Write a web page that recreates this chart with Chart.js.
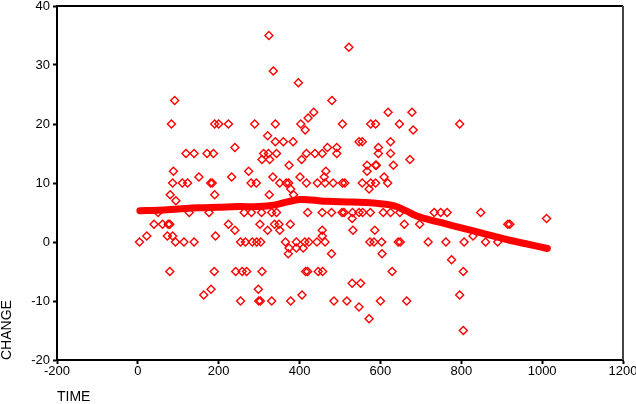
<!DOCTYPE html>
<html>
<head>
<meta charset="utf-8">
<title>CHANGE vs TIME</title>
<script src="https://cdn.jsdelivr.net/npm/chart.js@4.4.1/dist/chart.umd.min.js"></script>
<style>
  body { margin: 0; background: #fff; }
  #wrap { width: 636px; height: 404px; }
</style>
</head>
<body>
<div id="wrap"><canvas id="chart" width="636" height="404"></canvas></div>
<script>
const times = [
    91, 83, 190, 200, 224, 289, 340, 321, 340, 240, 119, 139, 171, 187, 311, 323, 307, 326,
    88, 274, 86, 110, 123, 151, 180, 184, 232, 280, 293, 334, 80, 94, 190, 325,
    50, 127, 176, 263, 281, 306, 331,
    40, 61, 75, 79, 224, 240, 302, 338, 321, 22, 73, 86, 192, 4, 93, 114, 139,
    254, 266, 283, 294, 304, 79, 189, 242, 258, 269, 307, 181, 163, 298, 254, 299, 303, 331,
    324, 522, 335, 397, 480, 435, 421, 619, 678, 403, 414, 506, 576, 588, 647, 681,
    360, 384, 469, 547, 555, 625, 595, 343, 417, 438, 456, 492, 492, 595, 625, 405, 673,
    374, 567, 588, 590, 632, 465, 461, 567, 401, 609, 351, 367, 373, 417, 444, 463, 483,
    506, 512, 555, 576, 588, 618, 378, 572, 385,
    343, 420, 456, 479, 505, 510, 531, 547, 556, 575, 607, 625, 648,
    530, 659, 349, 377, 351, 456, 456, 532, 586, 365, 392, 413, 423, 443, 463,
    574, 584, 603, 644, 649, 374, 392, 409, 372, 479, 604, 415, 420, 446, 457, 629,
    530, 551, 406, 378, 485, 517, 600, 665, 547, 572,
    796, 733, 749, 765, 848, 1011, 697, 915, 920, 829, 718, 762, 807, 860, 890,
    776, 805, 796, 805
];
const changes = [
    24, 20, 20, 20, 20, 20, 20, 18, 17, 16, 15, 15, 15, 15, 15, 15, 14, 14,
    12, 12, 10, 10, 10, 11, 10, 10, 11, 10, 10, 11, 8, 7, 8, 8,
    5, 5, 5, 5, 5, 5, 5,
    3, 3, 3, 3, 3, 2, 3, 3, 2, 1, 1, 1, 1, 0, 0, 0, 0,
    0, 0, 0, 0, 0, -5, -5, -5, -5, -5, -5, -8, -9, -8, -10, -10, -10, -10,
    35, 33, 29, 27, 24, 22, 21, 22, 22, 20, 19, 20, 20, 20, 20, 19,
    17, 17, 16, 17, 17, 17, 16, 15, 15, 15, 15, 15, 16, 15, 15, 14, 14,
    13, 13, 13, 13, 13, 12, 11, 12, 11, 11, 10, 10, 10, 10, 10, 10, 10,
    10, 10, 10, 10, 10, 10, 9, 9, 8,
    5, 5, 5, 5, 5, 5, 5, 5, 5, 5, 5, 5, 5,
    4, 3, 3, 3, 2, 2, 1, 2, 2, 0, 0, 0, 0, 0, 0,
    0, 0, 0, 0, 0, -1, -1, -1, -2, -2, -2, -5, -5, -5, -5, -5,
    -7, -7, -9, -10, -10, -10, -10, -10, -11, -13,
    20, 5, 5, 5, 5, 4, 3, 3, 3, 1, 0, 0, 0, 0, 0,
    -3, -5, -9, -15
];

// smoothed fit line
const fitTime = [5, 50, 100, 150, 200, 250, 300, 340, 370, 400, 430, 470, 520, 560, 600, 630, 660, 690, 720, 760, 800, 840, 880, 920, 960, 1013];
const fitChange = [5.3, 5.4, 5.6, 5.8, 5.9, 6.0, 6.0, 6.3, 6.8, 7.2, 7.1, 6.9, 6.8, 6.7, 6.5, 6.2, 5.4, 4.4, 3.8, 3.1, 2.4, 1.7, 1.0, 0.3, -0.3, -1.1];

const xTicks = [-200, 0, 200, 400, 600, 800, 1000, 1200];
const yTicks = [-20, -10, 0, 10, 20, 30, 40];

const red = "rgb(255,0,0)";
const tickFont = { family: "'Liberation Sans', Arial, sans-serif", size: 13 };
const titleFont = { family: "'Liberation Sans', Arial, sans-serif", size: 14, lineHeight: 1 };

// top and right frame lines
const framePlugin = {
    id: "frame",
    afterDraw(chart) {
        const { ctx, chartArea: a } = chart;
        ctx.save();
        ctx.lineWidth = 2;
        ctx.strokeStyle = "#000";
        ctx.beginPath();
        ctx.moveTo(a.left, a.top);
        ctx.lineTo(a.right, a.top);
        ctx.stroke();
        ctx.strokeStyle = "#444";
        ctx.beginPath();
        ctx.moveTo(a.right, a.top);
        ctx.lineTo(a.right, a.bottom);
        ctx.stroke();
        ctx.restore();
    }
};

new Chart(document.getElementById("chart"), {
    type: "scatter",
    data: {
        datasets: [
            {
                label: "fit",
                data: fitTime.map((t, i) => ({ x: t, y: fitChange[i] })),
                showLine: true,
                borderColor: red,
                borderWidth: 7,
                borderCapStyle: "round",
                borderJoinStyle: "round",
                tension: 0.4,
                pointRadius: 0,
                pointHoverRadius: 0,
                fill: false
            },
            {
                label: "CHANGE",
                data: times.map((t, i) => ({ x: t, y: changes[i] })),
                pointStyle: "rectRot",
                pointRadius: 4,
                pointBorderWidth: 1.4,
                borderColor: red,
                backgroundColor: "rgba(0,0,0,0)"
            }
        ]
    },
    options: {
        responsive: false,
        animation: false,
        devicePixelRatio: 1,
        layout: { padding: { top: 6, right: 13, left: 0, bottom: 0 } },
        plugins: {
            legend: { display: false },
            tooltip: { enabled: false }
        },
        scales: {
            x: {
                type: "linear",
                min: -200,
                max: 1200,
                afterBuildTicks: (s) => { s.ticks = xTicks.map(v => ({ value: v })); },
                ticks: { color: "#000", font: tickFont, padding: 0, maxRotation: 0, autoSkip: false, callback: (v) => String(v) },
                grid: { drawOnChartArea: false, tickLength: 4, tickWidth: 2, tickColor: "#000" },
                border: { color: "#000", width: 2 },
                title: { display: true, text: "TIME", align: "start", color: "#000", font: titleFont, padding: 0 },
                afterFit: (s) => { s.height = 44; s.paddingLeft = 0; s.paddingRight = 0; }
            },
            y: {
                type: "linear",
                min: -20,
                max: 40,
                afterBuildTicks: (s) => { s.ticks = yTicks.map(v => ({ value: v })); },
                ticks: { color: "#000", font: tickFont, padding: 3, autoSkip: false, callback: (v) => String(v) },
                grid: { drawOnChartArea: false, tickLength: 4, tickWidth: 2, tickColor: "#000" },
                border: { color: "#000", width: 2 },
                title: { display: true, text: "CHANGE", align: "start", color: "#000", font: titleFont, padding: 0 },
                afterFit: (s) => { s.width = 57; s.paddingTop = 0; s.paddingBottom = 0; }
            }
        }
    },
    plugins: [framePlugin]
});
</script>
</body>
</html>
